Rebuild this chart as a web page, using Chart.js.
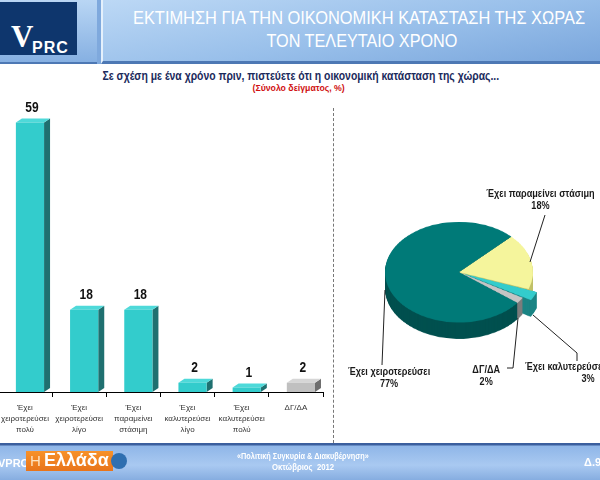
<!DOCTYPE html>
<html lang="el">
<head>
<meta charset="utf-8">
<script src="https://cdn.jsdelivr.net/npm/chart.js@4.4.0/dist/chart.umd.min.js"></script>
<style>
  html, body { margin: 0; padding: 0; }
  body { width: 600px; height: 480px; position: relative; overflow: hidden; background: #fff;
         font-family: 'Liberation Sans', Arial, sans-serif; }
  .abs { position: absolute; }
  .line { position: absolute; width: 600px; text-align: center; white-space: nowrap; }
  .line > span { display: inline-block; transform-origin: 50% 50%; }
  #header { left: 0; top: 0; width: 600px; height: 64px; background: #7fa9dd; }
  #logoPanel { left: 0; top: 0; width: 97px; height: 62px; background: linear-gradient(#b9d6f4, #86b0e2);
               border-bottom: 2px solid #4d78b4; }
  #logoBox { left: 0; top: 2px; width: 77px; height: 53px; background: #0e366d; }
  #logoV { left: 11px; top: 21px; color: #fff; font: bold 31px 'Liberation Serif', serif; line-height: 31px; }
  #logoP { left: 32px; top: 40px; color: #fff; font: bold 16px 'Liberation Sans', sans-serif; line-height: 16px; letter-spacing: 1px; }
  #titlePanel { left: 101px; top: 0; width: 499px; height: 61px;
                background: linear-gradient(170deg, #bcd8f5 0%, #98bfea 55%, #7aa6dc 100%);
                border-left: 2px solid #e4f0fc; border-bottom: 3px solid #4d78b4; }
  .title { color: #fff; font-size: 19px; line-height: 22px; }
  #sub { color: #1b2a5c; font-weight: bold; font-size: 12px; line-height: 13px; }
  #sub2 { color: #d01010; font-weight: bold; font-size: 9px; line-height: 11px; }
  #sep { left: 333px; top: 108px; width: 0; height: 335px; border-left: 1px dashed #777; }
  #barCanvas { left: -4px; top: 90px; }
  #pieCanvas { left: 375px; top: 215px; transform: scaleY(0.68); transform-origin: 0 0; }
  .pl { position: absolute; color: #1a1a1a; font-weight: bold; font-size: 10px; line-height: 12px; text-align: center; white-space: nowrap; }
  .pl > span { display: inline-block; transform-origin: 50% 50%; }
  #footer { left: 0; top: 443px; width: 600px; height: 37px;
            background: linear-gradient(#3b5f9e 0px, #3b5f9e 2px, #8fb6e8 3px, #a9c9f1 60%, #86ade0 100%); }
  #fVprc { left: -2px; top: 457px; color: #fff; font: bold 11px 'Liberation Sans', sans-serif; }
  #fBox { left: 26px; top: 451px; width: 87px; height: 20px; background: linear-gradient(#f7922a, #e8741a); }
  #fH { left: 30px; top: 452px; color: #fde2c0; font: 15px 'Liberation Sans', sans-serif; }
  #fEl { left: 44px; top: 450px; color: #fff; font: bold 18px 'Liberation Sans', sans-serif; }
  #fGlobe { left: 111px; top: 453px; width: 16px; height: 16px; border-radius: 8px; background: #2f6fb0; }
  .foot { color: #fff; font-weight: bold; font-size: 9px; line-height: 11px; }
  #fD { left: 584px; top: 456px; color: #fff; font: bold 11px 'Liberation Sans', sans-serif; }
</style>
</head>
<body>
<div id="header" class="abs"></div>
<div id="logoPanel" class="abs"></div>
<div id="logoBox" class="abs"></div>
<div id="logoV" class="abs">V</div>
<div id="logoP" class="abs">PRC</div>
<div id="titlePanel" class="abs"></div>
<div class="line title" style="left:59px;top:7px" data-w="452"><span>ΕΚΤΙΜΗΣΗ ΓΙΑ ΤΗΝ ΟΙΚΟΝΟΜΙΚΗ ΚΑΤΑΣΤΑΣΗ ΤΗΣ ΧΩΡΑΣ</span></div>
<div class="line title" style="left:62px;top:30px" data-w="191"><span>ΤΟΝ ΤΕΛΕΥΤΑΙΟ ΧΡΟΝΟ</span></div>
<div id="sub" class="line" style="left:1px;top:70px" data-w="397"><span>Σε σχέση με ένα χρόνο πριν, πιστεύετε ότι η οικονομική κατάσταση της χώρας...</span></div>
<div id="sub2" class="line" style="left:-1px;top:83px" data-w="92"><span>(Σύνολο δείγματος, %)</span></div>
<div id="sep" class="abs"></div>

<canvas id="barCanvas" class="abs" width="334" height="350"></canvas>
<canvas id="pieCanvas" class="abs" width="168" height="192"></canvas>

<svg class="abs" style="left:0;top:0" width="600" height="480">
  <g stroke="#222" stroke-width="1" fill="none">
    <polyline points="545,215 530,262"/>
    <polyline points="385,290 382,365"/>
    <polyline points="518,318 513,368 507,368"/>
    <polyline points="533,315 577,353 577,361"/>
  </g>
</svg>
<div id="pl0" class="pl"></div>
<div id="pl1" class="pl"></div>
<div id="pl2" class="pl"></div>
<div id="pl3" class="pl"></div>

<div id="footer" class="abs"></div>
<div id="fVprc" class="abs">VPRC</div>
<div id="fBox" class="abs"></div>
<div id="fH" class="abs">Η</div>
<div id="fEl" class="abs">Ελλάδα</div>
<div id="fGlobe" class="abs"></div>
<div class="line foot" style="left:3px;top:451px" data-w="132"><span>«Πολιτική Συγκυρία &amp; Διακυβέρνηση»</span></div>
<div class="line foot" style="left:3px;top:462px" data-w="62"><span>Οκτώβριος&nbsp; 2012</span></div>
<div id="fD" class="abs">Δ.9</div>

<script>
"use strict"

const FONT = "'Liberation Sans', Arial, sans-serif";

// Ραβδόγραμμα
const barLabels = [
    ['Έχει', 'χειροτερεύσει', 'πολύ'],
    ['Έχει', 'χειροτερεύσει', 'λίγο'],
    ['Έχει', 'παραμείνει', 'στάσιμη'],
    ['Έχει', 'καλυτερεύσει', 'λίγο'],
    ['Έχει', 'καλυτερεύσει', 'πολύ'],
    ['ΔΓ/ΔΑ']
];
const barValues = [59, 18, 18, 2, 1, 2];
const barColors = ['#33cccc', '#33cccc', '#33cccc', '#33cccc', '#33cccc', '#c0c0c0'];
const barSides = ['#1f7070', '#1f7070', '#1f7070', '#1f7070', '#1f7070', '#6e6e6e'];
const barTops = ['#4ed9d9', '#4ed9d9', '#4ed9d9', '#4ed9d9', '#4ed9d9', '#d6d6d6'];

// Πίτα
const pieLabels = ['Έχει παραμείνει στάσιμη', 'Έχει καλυτερεύσει', 'ΔΓ/ΔΑ', 'Έχει χειροτερεύσει'];
const pieValues = [18, 3, 2, 77];
const pieColors = ['#f5f59c', '#33cccc', '#c4c4c4', '#007a78'];
const pieSides = ['#c2c26a', '#1b8484', '#7c7c7c', '#00504f'];
const pieOffsets = [0, 20, 0, 0];

/**
 * Στενεύει οριζόντια ένα κείμενο ώστε να πιάνει το ζητούμενο πλάτος.
 */
function squeeze(span, width) {
    const k = width / span.offsetWidth;
    span.style.transform = 'scaleX(' + k + ')';
    return k;
}

/**
 * Ψευδο-3Δ ράβδοι: πλαϊνή και πάνω πλευρά, και οι τιμές πάνω από τις ράβδους.
 */
const bar3d = {
    id: 'bar3d',
    beforeDatasetsDraw(chart, args, opts) {
        const ctx = chart.ctx;
        ctx.save();
        ctx.translate(opts.shift, 0);
        chart.getDatasetMeta(0).data.forEach((bar, i) => {
            const { x, y, base, width } = bar.getProps(['x', 'y', 'base', 'width']);
            const x1 = x + width / 2, x0 = x - width / 2;
            ctx.fillStyle = barSides[i];
            ctx.beginPath();
            ctx.moveTo(x1, y);
            ctx.lineTo(x1 + opts.dx, y - opts.dy);
            ctx.lineTo(x1 + opts.dx, base - opts.dy);
            ctx.lineTo(x1, base);
            ctx.closePath();
            ctx.fill();
            ctx.fillStyle = barTops[i];
            ctx.beginPath();
            ctx.moveTo(x0, y);
            ctx.lineTo(x0 + opts.dx, y - opts.dy);
            ctx.lineTo(x1 + opts.dx, y - opts.dy);
            ctx.lineTo(x1, y);
            ctx.closePath();
            ctx.fill();
        });
    },
    afterDatasetsDraw(chart, args, opts) {
        const ctx = chart.ctx;
        ctx.restore();
        ctx.save();
        ctx.font = 'bold 15px ' + FONT;
        ctx.fillStyle = '#111';
        ctx.textAlign = 'center';
        ctx.textBaseline = 'middle';
        chart.getDatasetMeta(0).data.forEach((bar, i) => {
            // λίγο στενότερα ψηφία, όπως στο πρωτότυπο
            ctx.save();
            ctx.translate(bar.x + opts.shift + 2, bar.y - 15);
            ctx.scale(0.8, 1);
            ctx.fillText(String(barValues[i]), 0, 0);
            ctx.restore();
        });
        ctx.restore();
    }
};

/**
 * Ψευδο-3Δ πίτα: σχεδιάζει το πάχος της κάτω από τις φέτες.
 */
const pie3d = {
    id: 'pie3d',
    beforeDatasetsDraw(chart, args, opts) {
        const ctx = chart.ctx;
        const arcs = chart.getDatasetMeta(0).data;
        ctx.save();
        for (let k = opts.depth; k > 0; k--) {
            arcs.forEach((arc, i) => {
                const p = arc.getProps(['x', 'y', 'startAngle', 'endAngle', 'outerRadius']);
                const off = (arc.options.offset || 0) / 4;
                const mid = (p.startAngle + p.endAngle) / 2;
                const fix = 1 - Math.sin(Math.min(Math.PI, p.endAngle - p.startAngle));
                const cx = p.x + Math.cos(mid) * off;
                const cy = p.y + Math.sin(mid) * off + k;
                ctx.fillStyle = pieSides[i];
                ctx.beginPath();
                ctx.moveTo(cx, cy);
                ctx.arc(cx, cy, p.outerRadius + off * fix, p.startAngle, p.endAngle);
                ctx.closePath();
                ctx.fill();
            });
        }
        ctx.restore();
    }
};

function createBarChart() {
    new Chart(document.getElementById('barCanvas'), {
        type: 'bar',
        data: {
            labels: barLabels,
            datasets: [{
                data: barValues,
                backgroundColor: barColors,
                borderWidth: 0,
                barPercentage: 0.52,
                categoryPercentage: 1
            }]
        },
        options: {
            responsive: false,
            animation: false,
            layout: { padding: { top: 5, right: 7, left: 0, bottom: 0 } },
            plugins: {
                legend: { display: false },
                tooltip: { enabled: false },
                bar3d: { shift: 5, dx: 6, dy: 4 }
            },
            scales: {
                x: {
                    grid: { display: true, drawOnChartArea: false, drawTicks: true, tickLength: 5, color: '#000' },
                    border: { display: true, color: '#000', width: 1 },
                    ticks: {
                        autoSkip: false, maxRotation: 0, padding: 5, color: '#333',
                        font: { size: 8, family: FONT, lineHeight: 1.4 }
                    },
                    afterFit(scale) { scale.height = 48; }
                },
                y: { display: false, min: 0, max: 65 }
            }
        },
        plugins: [bar3d]
    });
}

function createPieChart() {
    new Chart(document.getElementById('pieCanvas'), {
        type: 'pie',
        data: {
            labels: pieLabels,
            datasets: [{
                data: pieValues,
                backgroundColor: pieColors,
                borderWidth: 0,
                offset: pieOffsets
            }]
        },
        options: {
            responsive: false,
            animation: false,
            rotation: 45,
            layout: { padding: { bottom: 24 } },
            plugins: {
                legend: { display: false },
                tooltip: { enabled: false },
                pie3d: { depth: 24 }
            }
        },
        plugins: [pie3d]
    });

    // Ετικέτες της πίτας (κέντρο x, πάνω y)
    const spots = [
        { cx: 540, top: 188 },
        { cx: 0, top: 361 },
        { cx: 486, top: 364 },
        { cx: 389, top: 366 }
    ];
    spots.forEach((s, i) => {
        const el = document.getElementById('pl' + i);
        el.style.left = (s.cx - 100) + 'px';
        el.style.top = s.top + 'px';
        el.style.width = '200px';
        el.innerHTML = '<span>' + pieLabels[i] + '<br>' + pieValues[i] + '%</span>';
    });
    // κοινή στένωση για όλες τις ετικέτες
    const k = squeeze(document.querySelector('#pl3 span'), 82);
    [0, 2].forEach(i => {
        document.querySelector('#pl' + i + ' span').style.transform = 'scaleX(' + k + ')';
    });
    // Η ετικέτα "Έχει καλυτερεύσει" κόβεται στη δεξιά άκρη όπως στο πρωτότυπο
    const pl1 = document.getElementById('pl1');
    pl1.style.left = '525px';
    pl1.style.width = 'auto';
    pl1.style.textAlign = 'left';
    pl1.innerHTML = '<span style="transform-origin:0 0;transform:scaleX(' + k + ')">' + pieLabels[1] +
        '<br><span style="padding-left:62px">' + pieValues[1] + '%</span></span>';
}

document.querySelectorAll('.line[data-w]').forEach(el => {
    squeeze(el.querySelector('span'), Number(el.dataset.w));
});

createBarChart();
createPieChart();
</script>
</body>
</html>
